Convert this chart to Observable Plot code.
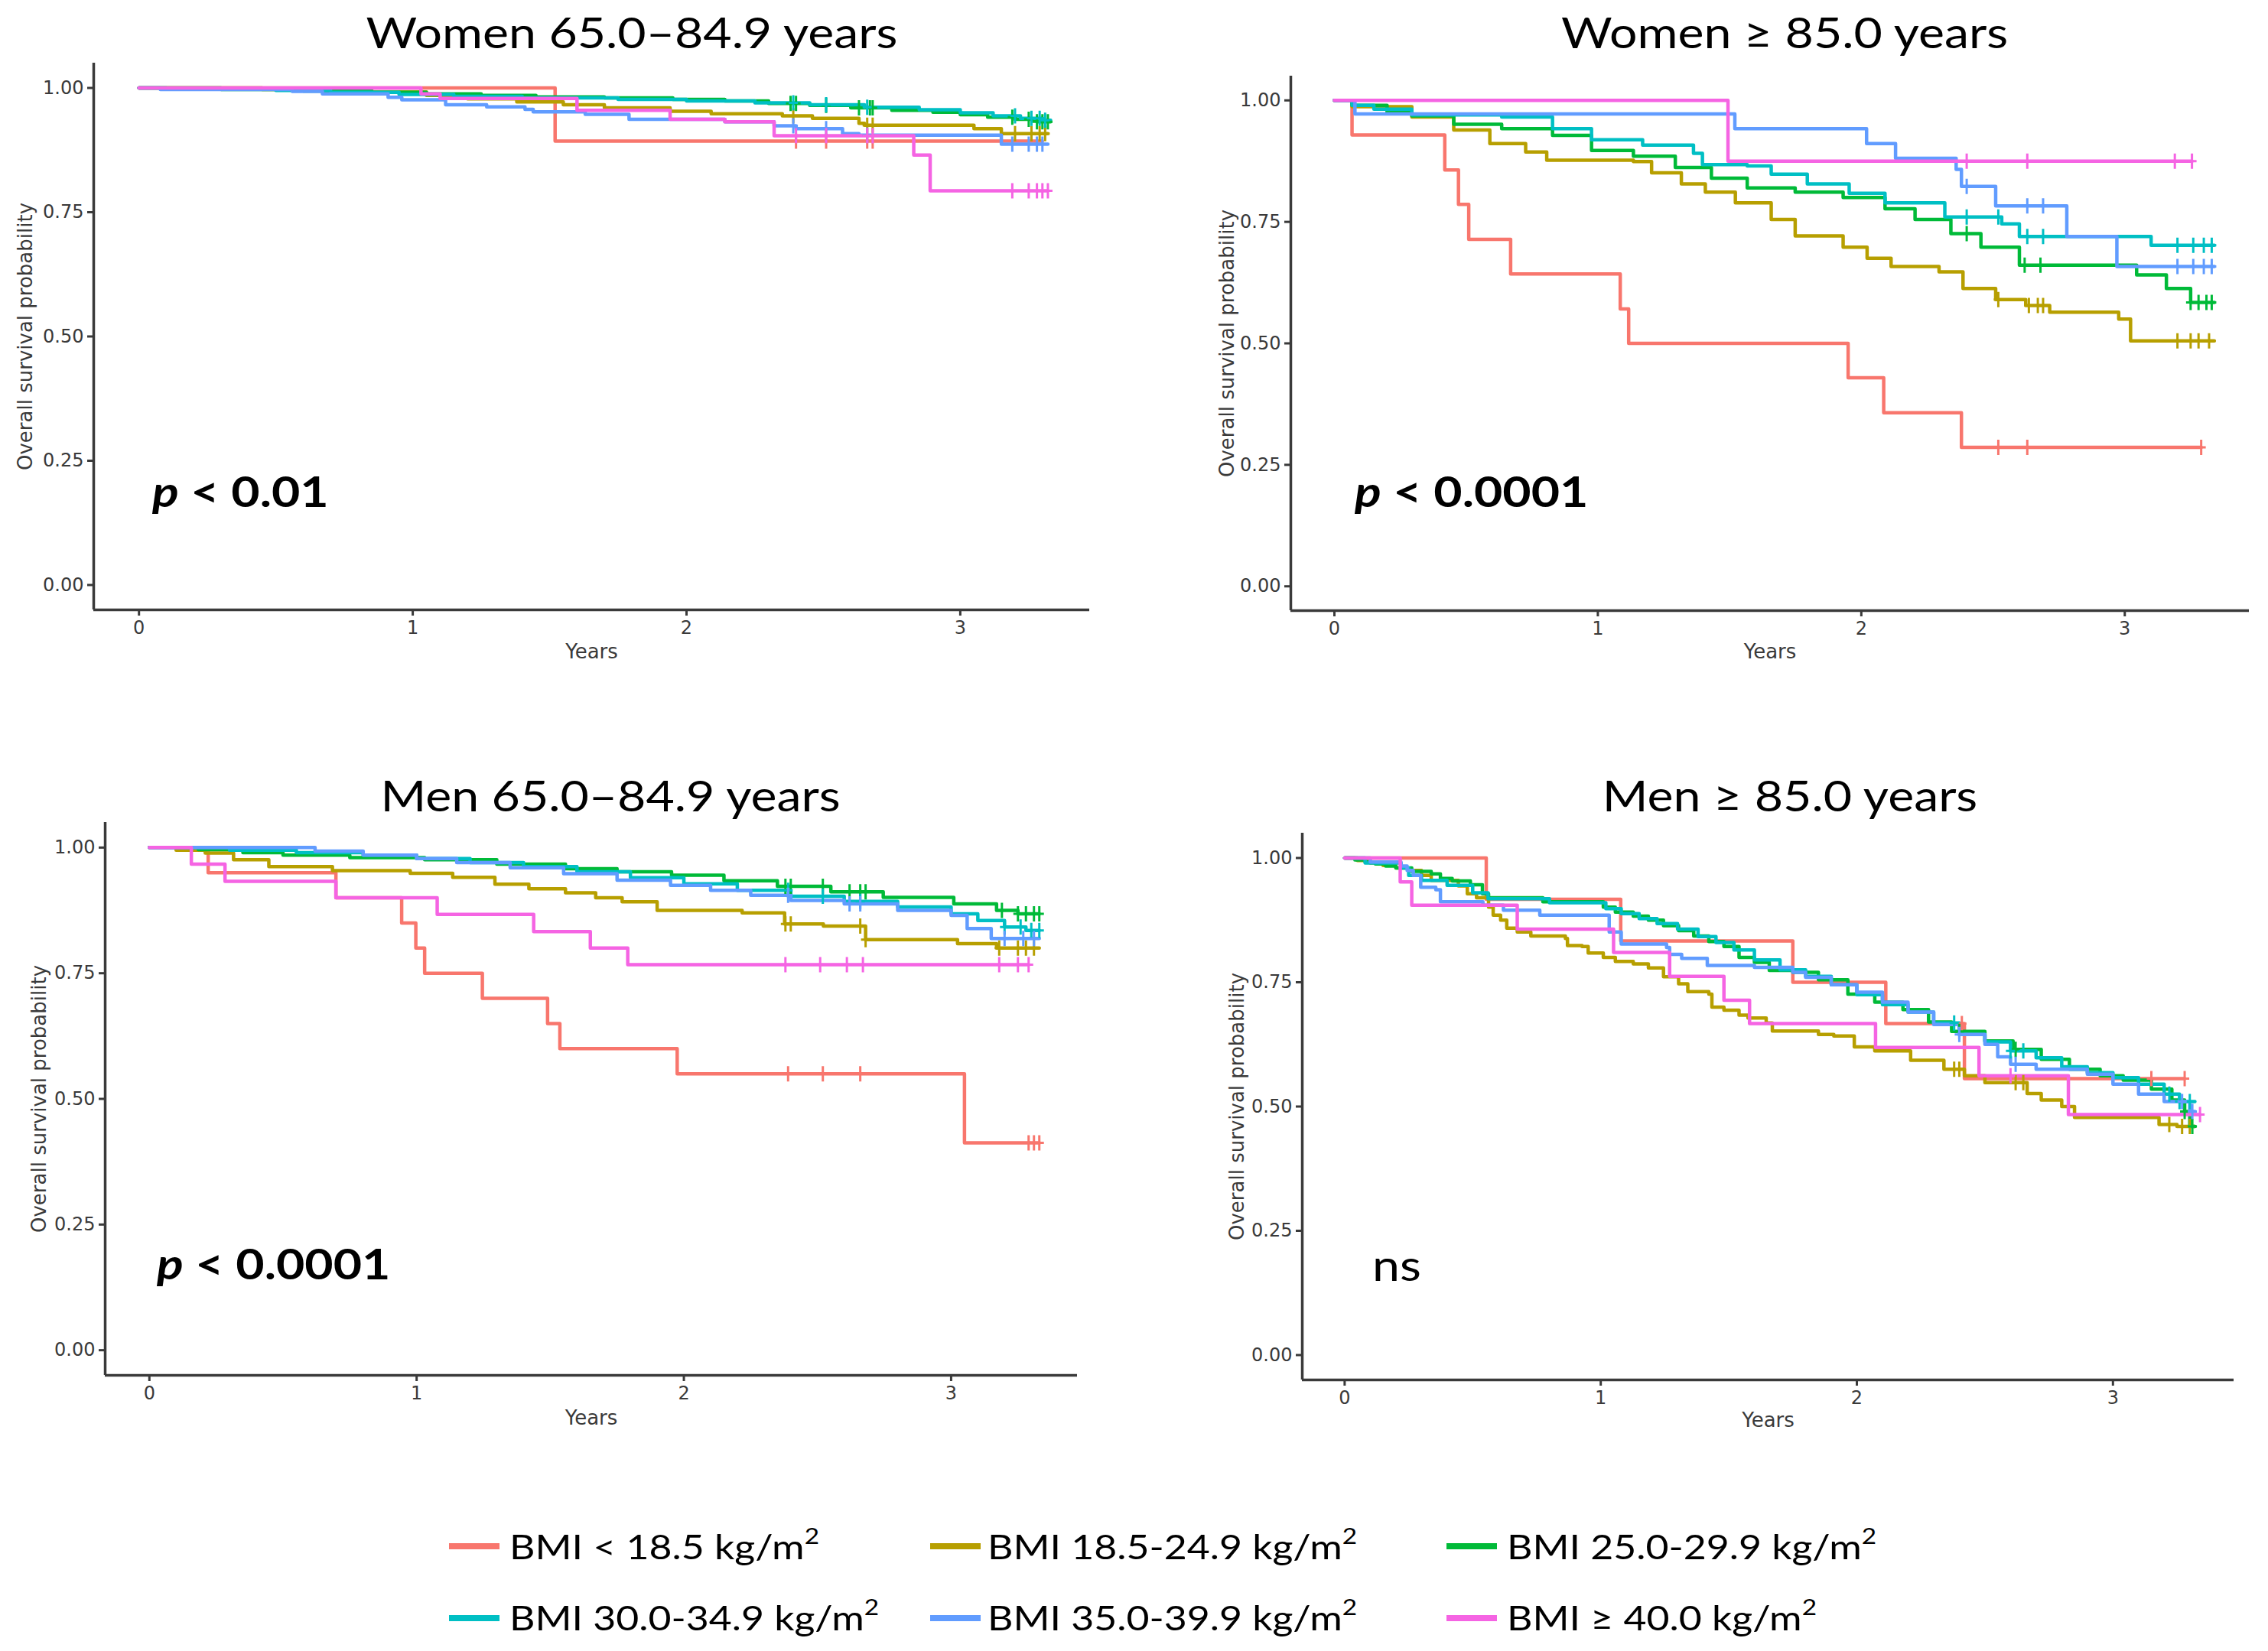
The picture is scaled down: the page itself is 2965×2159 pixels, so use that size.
<!DOCTYPE html>
<html>
<head>
<meta charset="utf-8">
<script src="https://cdn.jsdelivr.net/npm/d3@7"></script>
<script src="https://cdn.jsdelivr.net/npm/@observablehq/plot@0.6"></script>
<style>
  html, body { margin: 0; padding: 0; background: #fff; }
  #page { position: relative; width: 2965px; height: 2159px; overflow: hidden; background: #fff; }
  .panel { position: absolute; }
  .panel svg { overflow: visible; }
</style>
</head>
<body>
<div id="page"></div>
<script>
// ---------------- DATA ----------------
const groups = ["BMI < 18.5", "BMI 18.5-24.9", "BMI 25.0-29.9", "BMI 30.0-34.9", "BMI 35.0-39.9", "BMI ≥ 40.0"];
const legendLabels = ["BMI < 18.5 kg/m", "BMI 18.5-24.9 kg/m", "BMI 25.0-29.9 kg/m", "BMI 30.0-34.9 kg/m", "BMI 35.0-39.9 kg/m", "BMI ≥ 40.0 kg/m"];
const colors = ["#F8766D", "#B79F00", "#00BA38", "#00BFC4", "#619CFF", "#F564E3"];
const panelTitles = ["Women 65.0–84.9 years", "Women ≥ 85.0 years", "Men 65.0–84.9 years", "Men ≥ 85.0 years"];
const pValues = ["< 0.01", "< 0.0001", "< 0.0001", "ns"];
const xTicks = [0, 1, 2, 3];
const yTicks = [0, 0.25, 0.5, 0.75, 1];
const xLabel = "Years";
const yLabel = "Overall survival probability";

// Women 65.0–84.9 : [time (years), survival]
const tlRed = [[0,1],[1.52,0.893],[3.30,0.893]];
const tlOlive = [[0,1],[0.45,0.997],[0.85,0.992],[1.05,0.985],[1.2,0.978],[1.38,0.972],[1.55,0.966],[1.7,0.96],[1.94,0.953],[2.09,0.948],[2.35,0.944],[2.46,0.939],[2.63,0.929],[2.65,0.925],[3.05,0.918],[3.15,0.908],[3.32,0.908]];
const tlGreen = [[0,1],[0.3,0.997],[0.6,0.994],[0.85,0.991],[1.05,0.988],[1.25,0.985],[1.45,0.982],[1.7,0.98],[1.95,0.977],[2.14,0.974],[2.3,0.969],[2.45,0.965],[2.6,0.96],[2.75,0.955],[2.9,0.951],[3.0,0.946],[3.1,0.941],[3.2,0.937],[3.28,0.932],[3.33,0.932]];
const tlCyan = [[0,1],[0.1,0.998],[0.5,0.995],[0.7,0.991],[0.95,0.987],[1.15,0.983],[1.4,0.98],[1.75,0.977],[2.0,0.974],[2.25,0.97],[2.45,0.966],[2.65,0.961],[2.85,0.956],[3.0,0.95],[3.12,0.944],[3.22,0.939],[3.3,0.935],[3.33,0.935]];
const tlBlue = [[0,1],[0.078,0.997],[0.56,0.993],[0.67,0.988],[0.91,0.981],[0.96,0.976],[1.12,0.966],[1.27,0.962],[1.41,0.957],[1.44,0.952],[1.63,0.947],[1.79,0.937],[2.14,0.932],[2.32,0.924],[2.40,0.918],[2.57,0.908],[2.63,0.905],[3.15,0.887],[3.32,0.887]];
const tlMagenta = [[0,1],[1.03,0.988],[1.1,0.979],[1.6,0.955],[1.94,0.937],[2.14,0.932],[2.32,0.904],[2.83,0.865],[2.89,0.793],[3.32,0.793]];
const tlCensor = [[2.40,2.51,2.66,2.68],[2.39,2.66,2.68,3.2,3.26,3.29,3.31],[2.38,2.40,2.51,2.63,2.67,2.68,3.19,3.25,3.28,3.30,3.32],[2.39,2.51,2.66,3.2,3.26,3.29,3.31],[2.39,2.51,2.66,3.19,3.25,3.28,3.30],[2.40,2.51,2.66,2.68,3.19,3.25,3.28,3.30,3.32]];

// Women >= 85.0
const trRed = [[0,1],[0.067,0.929],[0.419,0.857],[0.471,0.786],[0.51,0.714],[0.669,0.643],[1.085,0.571],[1.117,0.5],[1.95,0.429],[2.085,0.357],[2.38,0.286],[3.29,0.286]];
const trOlive = [[0,1],[0.067,0.987],[0.294,0.966],[0.453,0.939],[0.59,0.911],[0.726,0.894],[0.806,0.877],[1.135,0.874],[1.204,0.851],[1.317,0.828],[1.408,0.811],[1.522,0.789],[1.658,0.755],[1.749,0.721],[1.931,0.698],[2.022,0.675],[2.113,0.658],[2.295,0.647],[2.386,0.613],[2.51,0.59],[2.624,0.578],[2.715,0.564],[2.977,0.55],[3.022,0.505],[3.34,0.505]];
const trGreen = [[0,1],[0.067,0.99],[0.2,0.975],[0.294,0.968],[0.453,0.951],[0.635,0.942],[0.828,0.928],[0.976,0.897],[1.135,0.885],[1.294,0.862],[1.431,0.84],[1.567,0.82],[1.749,0.811],[1.931,0.80],[2.09,0.777],[2.204,0.755],[2.34,0.726],[2.454,0.698],[2.60,0.661],[2.977,0.661],[3.045,0.641],[3.158,0.613],[3.25,0.584],[3.34,0.584]];
const trCyan = [[0,1],[0.067,0.99],[0.15,0.982],[0.294,0.970],[0.635,0.966],[0.828,0.942],[0.976,0.919],[1.17,0.908],[1.363,0.891],[1.397,0.868],[1.567,0.865],[1.658,0.848],[1.795,0.828],[1.954,0.809],[2.09,0.789],[2.317,0.760],[2.533,0.746],[2.60,0.72],[3.10,0.702],[3.34,0.702]];
const trBlue = [[0,1],[0.078,0.972],[1.52,0.942],[2.02,0.911],[2.13,0.881],[2.36,0.858],[2.38,0.823],[2.51,0.783],[2.78,0.72],[2.97,0.658],[3.34,0.658]];
const trMagenta = [[0,1],[1.494,0.875],[3.255,0.875]];
const trCensor = [[2.52,2.63,3.29],[2.52,2.636,2.67,2.69,3.2,3.25,3.28,3.32],[2.40,2.62,2.68,3.25,3.28,3.31,3.33],[2.40,2.52,2.63,2.69,3.2,3.26,3.3,3.33],[2.40,2.63,2.69,3.2,3.26,3.3,3.33],[2.40,2.63,3.19,3.255]];

// Men 65.0–84.9
const blRed = [[0,1],[0.22,0.95],[0.698,0.90],[0.944,0.85],[0.997,0.80],[1.03,0.75],[1.246,0.70],[1.49,0.65],[1.536,0.60],[1.975,0.55],[3.05,0.4125],[3.33,0.4125]];
const blOlive = [[0,1],[0.1,0.995],[0.209,0.989],[0.315,0.976],[0.447,0.962],[0.685,0.954],[0.976,0.949],[1.135,0.941],[1.293,0.927],[1.42,0.918],[1.557,0.91],[1.67,0.90],[1.769,0.892],[1.90,0.875],[2.218,0.87],[2.377,0.848],[2.522,0.844],[2.68,0.817],[3.024,0.809],[3.17,0.80],[3.33,0.80]];
const blGreen = [[0,1],[0.183,0.996],[0.35,0.99],[0.5,0.985],[0.75,0.98],[1.03,0.976],[1.3,0.967],[1.557,0.958],[1.75,0.952],[1.954,0.945],[2.15,0.934],[2.35,0.923],[2.55,0.912],[2.746,0.901],[3.01,0.888],[3.17,0.875],[3.25,0.868],[3.33,0.868]];
const blCyan = [[0,1],[0.3,0.995],[0.55,0.99],[0.8,0.985],[1.0,0.978],[1.2,0.97],[1.4,0.962],[1.6,0.952],[1.8,0.94],[2.0,0.928],[2.2,0.915],[2.4,0.903],[2.6,0.893],[2.8,0.882],[3.0,0.868],[3.1,0.855],[3.2,0.842],[3.28,0.835],[3.33,0.835]];
const blBlue = [[0,1],[0.62,0.993],[0.8,0.985],[1.0,0.978],[1.15,0.97],[1.35,0.96],[1.55,0.948],[1.75,0.935],[1.95,0.925],[2.1,0.915],[2.25,0.905],[2.4,0.895],[2.6,0.888],[2.8,0.875],[3.0,0.865],[3.06,0.839],[3.15,0.819],[3.33,0.819]];
const blMagenta = [[0,1],[0.157,0.967],[0.283,0.933],[0.698,0.90],[1.077,0.867],[1.438,0.833],[1.65,0.80],[1.79,0.767],[3.29,0.767]];
const blCensor = [[2.39,2.52,2.66,3.29,3.31,3.33],[2.38,2.40,2.66,2.68,3.18,3.25,3.28,3.31],[2.38,2.40,2.52,2.62,2.66,2.68,3.19,3.25,3.28,3.31,3.33],[2.39,2.52,2.66,3.2,3.26,3.3,3.33],[2.39,2.62,2.66,3.2,3.27,3.31],[2.38,2.51,2.61,2.67,3.18,3.25,3.29]];

// Men >= 85.0
const brRed = [[0,1],[0.553,0.917],[1.078,0.833],[1.75,0.75],[2.113,0.667],[2.42,0.556],[3.28,0.556]];
const brOlive = [[0,1],[0.05,0.995],[0.1,0.99],[0.15,0.985],[0.2,0.98],[0.25,0.975],[0.3,0.965],[0.338,0.955],[0.444,0.944],[0.479,0.928],[0.515,0.92],[0.562,0.901],[0.58,0.885],[0.609,0.875],[0.633,0.859],[0.674,0.851],[0.727,0.843],[0.862,0.838],[0.87,0.824],[0.927,0.822],[0.951,0.809],[1.01,0.80],[1.057,0.792],[1.127,0.787],[1.186,0.779],[1.245,0.761],[1.304,0.747],[1.34,0.731],[1.422,0.726],[1.434,0.70],[1.481,0.694],[1.54,0.684],[1.575,0.678],[1.646,0.668],[1.67,0.652],[1.85,0.645],[1.91,0.642],[1.99,0.62],[2.07,0.612],[2.21,0.593],[2.34,0.575],[2.42,0.562],[2.50,0.548],[2.665,0.526],[2.72,0.513],[2.80,0.50],[2.85,0.478],[3.18,0.464],[3.25,0.46],[3.32,0.46]];
const brGreen = [[0,1],[0.04,0.996],[0.08,0.992],[0.12,0.988],[0.16,0.984],[0.2,0.98],[0.262,0.973],[0.338,0.968],[0.374,0.959],[0.42,0.954],[0.491,0.946],[0.538,0.928],[0.562,0.92],[0.774,0.912],[1.01,0.901],[1.057,0.891],[1.127,0.883],[1.186,0.875],[1.245,0.864],[1.304,0.854],[1.363,0.843],[1.422,0.832],[1.481,0.822],[1.54,0.80],[1.6,0.79],[1.658,0.774],[1.75,0.77],[1.85,0.755],[1.965,0.726],[2.07,0.71],[2.18,0.695],[2.28,0.67],[2.37,0.651],[2.5,0.632],[2.61,0.615],[2.72,0.595],[2.83,0.575],[2.95,0.562],[3.04,0.553],[3.15,0.535],[3.23,0.513],[3.28,0.49],[3.3,0.46],[3.32,0.46]];
const brCyan = [[0,1],[0.08,0.99],[0.22,0.98],[0.25,0.965],[0.3,0.955],[0.4,0.945],[0.5,0.93],[0.56,0.918],[0.8,0.91],[1.02,0.898],[1.08,0.888],[1.15,0.878],[1.22,0.868],[1.3,0.857],[1.38,0.842],[1.45,0.83],[1.52,0.815],[1.6,0.795],[1.7,0.775],[1.8,0.762],[1.9,0.745],[2.0,0.725],[2.1,0.705],[2.2,0.69],[2.3,0.668],[2.4,0.645],[2.5,0.63],[2.6,0.612],[2.7,0.598],[2.8,0.58],[2.9,0.568],[3.0,0.558],[3.1,0.545],[3.2,0.525],[3.26,0.51],[3.32,0.51]];
const brBlue = [[0,1],[0.1,0.992],[0.22,0.984],[0.244,0.975],[0.268,0.965],[0.297,0.941],[0.356,0.936],[0.374,0.912],[0.54,0.905],[0.62,0.895],[0.762,0.885],[1.033,0.851],[1.08,0.827],[1.257,0.82],[1.269,0.806],[1.316,0.798],[1.416,0.784],[1.6,0.78],[1.75,0.77],[1.8,0.76],[1.9,0.745],[2.0,0.73],[2.1,0.71],[2.2,0.69],[2.3,0.665],[2.4,0.645],[2.5,0.625],[2.55,0.60],[2.6,0.585],[2.7,0.575],[2.9,0.565],[3.0,0.545],[3.1,0.525],[3.2,0.51],[3.3,0.49],[3.32,0.49]];
const brMagenta = [[0,1],[0.217,0.952],[0.262,0.905],[0.674,0.857],[1.05,0.81],[1.269,0.762],[1.481,0.714],[1.581,0.667],[2.073,0.619],[2.477,0.562],[2.826,0.484],[3.34,0.484]];
const brCensor = [[2.41,3.15,3.28],[2.38,2.40,2.62,2.65,3.22,3.27,3.3],[2.4,2.62,3.28,3.31],[2.38,2.6,2.65,3.22,3.26,3.3],[2.4,2.62,3.27,3.31],[2.6,3.34]];

const panelCurves = [
  [tlRed, tlOlive, tlGreen, tlCyan, tlBlue, tlMagenta],
  [trRed, trOlive, trGreen, trCyan, trBlue, trMagenta],
  [blRed, blOlive, blGreen, blCyan, blBlue, blMagenta],
  [brRed, brOlive, brGreen, brCyan, brBlue, brMagenta]
];
const panelCensors = [tlCensor, trCensor, blCensor, brCensor];

// ---------------- LAYOUT (styling only) ----------------
const layout = [
  {left: 0,    top: 60,   width: 1450, height: 830, mL: 122, mT: 22, mR: 26, mB: 93,  yLabDx: -89, xLabDy: 55, titleX: 826,  titleY: 63,   pX: 199,  pY: 663},
  {left: 1550, top: 60,   width: 1415, height: 830, mL: 137, mT: 39, mR: 25, mB: 92,  yLabDx: -83, xLabDy: 54, titleX: 2333, titleY: 63,   pX: 1771, pY: 663},
  {left: 0,    top: 1050, width: 1450, height: 850, mL: 137, mT: 25, mR: 42, mB: 102, yLabDx: -86, xLabDy: 56, titleX: 798,  titleY: 1061, pX: 205,  pY: 1673},
  {left: 1550, top: 1050, width: 1415, height: 850, mL: 152, mT: 39, mR: 45, mB: 96,  yLabDx: -85, xLabDy: 53, titleX: 2340, titleY: 1061, pX: 1794, pY: 1675}
];
const xDomain = [-0.1654, 3.4725];
const yDomain = [-0.05, 1.05];
const axisColor = "#3a3a3a";

function stepAt(steps, t) {
  let s = steps[0][1];
  for (const [tt, ss] of steps) { if (tt <= t) s = ss; }
  return s;
}

const censorSymbol = {
  draw(ctx, size) {
    const r = Math.sqrt(size / Math.PI);
    ctx.moveTo(0, -r); ctx.lineTo(0, r);
    ctx.moveTo(-r * 0.6, 0); ctx.lineTo(r * 0.6, 0);
  }
};

const page = document.getElementById("page");

panelCurves.forEach((curves, pi) => {
  const L = layout[pi];
  const rows = [];
  curves.forEach((steps, gi) => steps.forEach(([t, s]) => rows.push({group: groups[gi], t, s})));
  const cens = [];
  panelCensors[pi].forEach((times, gi) => times.forEach(t => cens.push({group: groups[gi], t, s: stepAt(curves[gi], t)})));

  const chart = Plot.plot({
    width: L.width, height: L.height,
    marginLeft: L.mL, marginRight: L.mR, marginTop: L.mT, marginBottom: L.mB,
    x: {domain: xDomain},
    y: {domain: yDomain},
    color: {domain: groups, range: colors},
    style: {fontFamily: "'DejaVu Sans', 'Liberation Sans', sans-serif", fontSize: "24px", color: axisColor, background: "transparent"},
    marks: [
      Plot.axisX({ticks: xTicks, tickFormat: d3.format("d"), tickSize: 8, tickPadding: 6, label: null, strokeWidth: 3, fontSize: 24}),
      Plot.axisY({ticks: yTicks, tickFormat: d3.format(".2f"), tickSize: 8, tickPadding: 5, label: null, strokeWidth: 3, fontSize: 24}),
      Plot.ruleX([xDomain[0]], {stroke: axisColor, strokeWidth: 3.5}),
      Plot.ruleY([yDomain[0]], {stroke: axisColor, strokeWidth: 3.5}),
      Plot.line(rows, {x: "t", y: "s", z: "group", stroke: "group", curve: "step-after", strokeWidth: 4.5}),
      Plot.dot(cens, {x: "t", y: "s", stroke: "group", fill: "none", symbol: censorSymbol, r: 10, strokeWidth: 3}),
      Plot.text([yLabel], {text: d => d, frameAnchor: "left", dx: L.yLabDx, rotate: -90, textAnchor: "middle", lineAnchor: "middle", fontSize: 26, fill: axisColor}),
      Plot.text([xLabel], {text: d => d, frameAnchor: "bottom", dy: L.xLabDy, textAnchor: "middle", lineAnchor: "middle", fontSize: 26, fill: axisColor})
    ]
  });
  const div = document.createElement("div");
  div.className = "panel";
  div.style.left = L.left + "px";
  div.style.top = L.top + "px";
  div.appendChild(chart);
  page.appendChild(div);
});

// ---------------- OVERLAY TEXT (titles, p-values, legend) ----------------
const ov = d3.select(page).append("svg")
  .attr("width", 2965).attr("height", 2159)
  .style("position", "absolute").style("left", 0).style("top", 0)
  .style("pointer-events", "none");
const STRETCH = 1.15;
const textFont = "Lato, 'Open Sans', sans-serif";

panelTitles.forEach((t, i) => {
  const L = layout[i];
  ov.append("g").attr("transform", `translate(${L.titleX},${L.titleY}) scale(${STRETCH},1)`)
    .append("text").attr("text-anchor", "middle")
    .attr("font-family", textFont).attr("font-size", 56).attr("fill", "#000").text(t);
});

pValues.forEach((p, i) => {
  const L = layout[i];
  const g = ov.append("g").attr("transform", `translate(${L.pX},${L.pY}) scale(${STRETCH},1)`);
  const tx = g.append("text").attr("font-family", textFont).attr("font-size", 56).attr("fill", "#000");
  if (p === "ns") {
    tx.text(p);
  } else {
    tx.attr("font-weight", "bold");
    tx.append("tspan").attr("font-style", "italic").text("p");
    tx.append("tspan").text(" " + p);
  }
});

// legend
const legCols = [587, 1216, 1891];
const legTextX = [666, 1291, 1970];
const legRowMid = [2022, 2116];
const legRowBase = [2039, 2132];
groups.forEach((g, i) => {
  const r = Math.floor(i / 3), c = i % 3;
  ov.append("line")
    .attr("x1", legCols[c]).attr("x2", legCols[c] + 66)
    .attr("y1", legRowMid[r]).attr("y2", legRowMid[r])
    .attr("stroke", colors[i]).attr("stroke-width", 8);
  const t = ov.append("g").attr("transform", `translate(${legTextX[c]},${legRowBase[r]}) scale(${STRETCH},1)`)
    .append("text").attr("font-family", textFont).attr("font-size", 45).attr("fill", "#000");
  t.append("tspan").text(legendLabels[i]);
  t.append("tspan").attr("font-size", 29).attr("dy", -20).text("2");
});
</script>
</body>
</html>
